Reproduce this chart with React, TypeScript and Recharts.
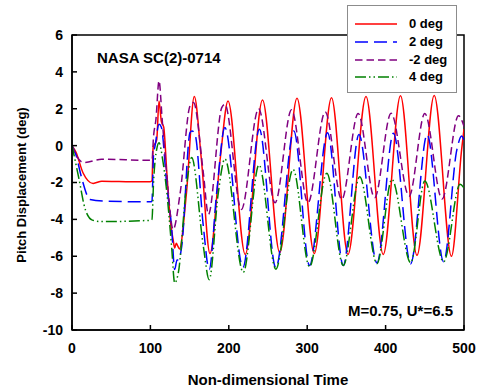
import React from 'react';
import { LineChart, Line, XAxis, YAxis, ReferenceArea, Legend, Customized } from 'recharts';

const X_TICKS = [0, 100, 200, 300, 400, 500];
const Y_TICKS = [-10, -8, -6, -4, -2, 0, 2, 4, 6];
const SERIES_NAMES = ['0 deg', '2 deg', '-2 deg', '4 deg'];

// 0 deg
const T_0 = [0, 5, 14, 27, 38, 60, 100, 102, 103.5, 108, 111, 114, 117, 121, 126, 129, 131, 133, 135, 137, 146, 156, 165, 176, 189, 199, 221, 243, 265, 287, 309, 331, 352, 375, 397, 419, 440, 462, 484, 497, 500];
const V_0 = [0, -0.35, -1.47, -2.05, -1.93, -1.95, -1.96, -1.9, -0.1, 0.3, 2.42, 1.3, 1.0, -1.5, -4.3, -5.1, -5.55, -5.3, -5.45, -5.6, -2.56, 2.66, -0.74, -5.85, -0.74, 2.42, -5.9, 2.48, -5.8, 2.57, -5.85, 2.6, -5.9, 2.66, -5.9, 2.7, -5.95, 2.72, -6.0, -0.2, 0.9];

// 2 deg
const T_2 = [0, 5, 12, 23, 40, 100, 102, 104, 106, 111, 114, 121, 127, 131, 134, 136, 140, 150.5, 153, 157, 167.5, 175, 184.5, 195, 218, 239, 260, 283, 303, 326, 346, 366, 389, 410, 432, 453, 474, 491, 497, 500];
const V_2 = [0, -0.5, -1.7, -2.92, -3.0, -3.05, -3.0, -0.5, 0, 1.16, 1.0, -2.2, -4.4, -6.72, -6.2, -6.2, -5.45, 0.7, 0.8, 0.6, -4.37, -6.72, -2.56, 0.98, -6.6, 0.89, -6.63, 0.8, -6.5, 0.7, -6.5, 0.6, -6.36, 0.67, -6.4, 0.6, -6.3, -0.2, 0.52, 0.3];

// -2 deg
const T_M2 = [0, 5, 15, 38, 100, 102, 104, 107, 111, 115, 121, 129, 138, 150.5, 155, 167.5, 174, 191, 195, 216, 238, 259, 280, 301, 323, 344, 365, 386, 407, 430, 450, 472, 493, 500];
const V_M2 = [0, -0.5, -0.92, -0.74, -0.8, -0.8, 0.5, 1.4, 3.51, 1.43, -1.65, -4.55, -2.56, 2.15, 2.34, -1.47, -3.73, 2.06, 2.24, -3.46, 2.0, -3.1, 1.94, -3.1, 1.83, -2.92, 1.74, -2.83, 1.76, -2.74, 1.74, -2.9, 1.62, 1.05];

// 4 deg
const T_4 = [0, 4, 9, 17, 26, 38, 100, 102, 104, 108, 111, 115.6, 121, 127, 131, 135.6, 146, 152.6, 167.5, 175, 186.6, 195, 218.5, 238.5, 260, 282, 303, 325, 346, 367, 389, 408, 432, 450, 474, 495, 500];
const V_4 = [0, -0.8, -1.83, -3.47, -4.04, -4.12, -4.05, -4.0, -2.0, -0.2, 0.16, -0.74, -2.56, -5.45, -7.45, -6.9, -2.2, -0.65, -5.45, -7.27, -2.56, -0.72, -6.87, -1.05, -6.7, -1.29, -6.57, -1.5, -6.5, -1.69, -6.4, -1.83, -6.35, -1.92, -6.3, -2.1, -2.3];

const zip = (t: number[], v: number[]) => t.map((x, i) => ({ t: x, v: v[i] }));

const DATA = [zip(T_0, V_0), zip(T_2, V_2), zip(T_M2, V_M2), zip(T_4, V_4)];
const COLORS = ['#ff0000', '#0000ff', '#800080', '#008000'];
const DASHES = [undefined, '13 6', '7.5 4', '11 3 1.5 3 1.5 3'];

const FONT = '"Liberation Sans", Arial, Helvetica, sans-serif';

const renderLegend = () => (
  <div
    style={{
      width: 110,
      height: 88,
      boxSizing: 'border-box',
      border: '1px solid #8c8c8c',
      background: '#fff',
      position: 'relative',
      fontFamily: FONT,
      fontWeight: 'bold',
      fontSize: 13,
      color: '#000',
    }}
  >
    {SERIES_NAMES.map((name, i) => (
      <div key={name} style={{ position: 'absolute', left: 0, top: 9 + i * 17.8, height: 18, width: '100%' }}>
        <svg width={52} height={18} style={{ position: 'absolute', left: 0, top: 0 }}>
          <line x1={7} x2={49} y1={9} y2={9} stroke={COLORS[i]} strokeWidth={1.5} strokeDasharray={DASHES[i]} />
        </svg>
        <span style={{ position: 'absolute', left: 61, top: 0, lineHeight: '18px', whiteSpace: 'nowrap' }}>{name}</span>
      </div>
    ))}
  </div>
);

const Annotations = () => (
  <g>
    <text x={97} y={63} fontFamily={FONT} fontWeight="bold" fontSize={15} fill="#000">NASA SC(2)-0714</text>
    <text x={453} y={316} textAnchor="end" fontFamily={FONT} fontWeight="bold" fontSize={15} fill="#000">M=0.75, U*=6.5</text>
    <text x={268} y={385} textAnchor="middle" fontFamily={FONT} fontWeight="bold" fontSize={15} fill="#000">Non-dimensional Time</text>
    <text x={26} y={185} textAnchor="middle" transform="rotate(-90 26 185)" fontFamily={FONT} fontWeight="bold" fontSize={13} fill="#000">Pitch Displacement (deg)</text>
  </g>
);

export default function App() {
  return (
    <div style={{ position: 'absolute', left: 0, top: 0 }}>
      <LineChart width={478} height={389} margin={{ top: 35, right: 14, bottom: 0, left: 0 }}>
        <ReferenceArea x1={0} x2={500} y1={-10} y2={6} fill="none" stroke="#000" strokeWidth={1.5} ifOverflow="visible" />
        <XAxis
          dataKey="t"
          type="number"
          domain={[0, 500]}
          ticks={X_TICKS}
          allowDataOverflow
          height={59}
          tickSize={-5}
          tickMargin={18}
          axisLine={{ stroke: '#000', strokeWidth: 1.5 }}
          tickLine={{ stroke: '#000', strokeWidth: 1.5 }}
          tick={{ fill: '#000', fontFamily: FONT, fontWeight: 'bold', fontSize: 14 }}
        />
        <YAxis
          type="number"
          domain={[-10, 6]}
          ticks={Y_TICKS}
          allowDataOverflow
          width={72}
          tickSize={-5}
          tickMargin={14}
          axisLine={{ stroke: '#000', strokeWidth: 1.5 }}
          tickLine={{ stroke: '#000', strokeWidth: 1.5 }}
          tick={{ fill: '#000', fontFamily: FONT, fontWeight: 'bold', fontSize: 14 }}
        />
        {DATA.map((d, i) => (
          <Line
            key={SERIES_NAMES[i]}
            data={d}
            dataKey="v"
            name={SERIES_NAMES[i]}
            type="monotone"
            stroke={COLORS[i]}
            strokeWidth={1.5}
            strokeDasharray={DASHES[i]}
            dot={false}
            activeDot={false}
            isAnimationActive={false}
          />
        ))}
        <Customized component={Annotations} />
        <Legend
          layout="vertical"
          align="center"
          verticalAlign="middle"
          content={renderLegend}
          wrapperStyle={{ left: 347, top: 5, width: 110, height: 88 }}
        />
      </LineChart>
    </div>
  );
}
